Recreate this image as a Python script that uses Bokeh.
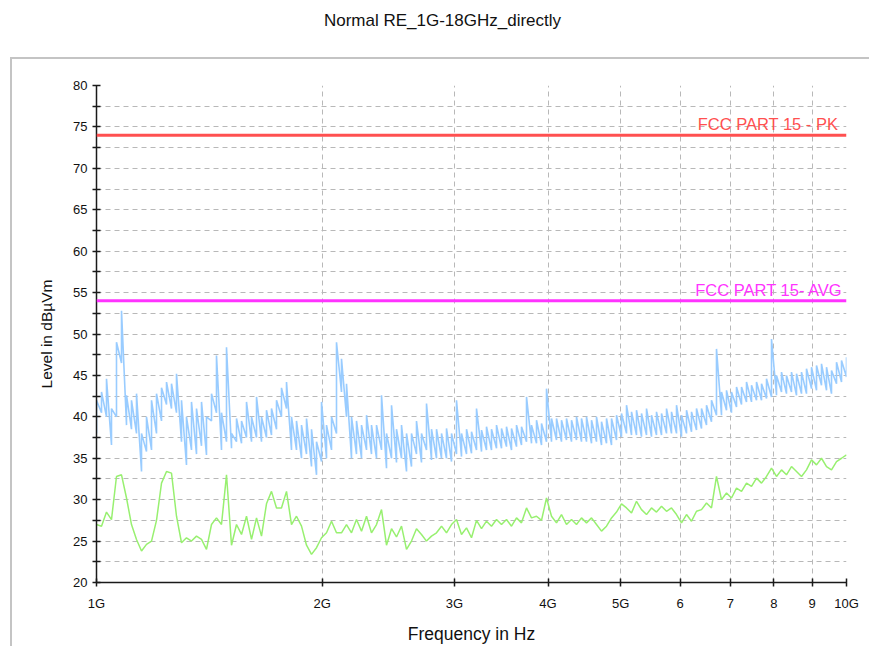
from bokeh.plotting import figure
from bokeh.models import Range1d, FixedTicker, Span, Label, LogAxis
from bokeh.embed import file_html
from bokeh.resources import INLINE

# ---------------- data ----------------
freq_ghz = [
    1.0, 1.0155, 1.0312, 1.0471, 1.0633, 1.0798, 1.0965, 1.1134, 1.1307, 1.1482, 1.1659, 1.1840, 1.2023, 1.2209, 1.2398,
    1.2589, 1.2784, 1.2982, 1.3182, 1.3386, 1.3594, 1.3804, 1.4017, 1.4234, 1.4454, 1.4678, 1.4905, 1.5136, 1.5370, 1.5608,
    1.5849, 1.6095, 1.6344, 1.6596, 1.6852, 1.7113, 1.7378, 1.7646, 1.7920, 1.8197, 1.8478, 1.8765, 1.9055, 1.9350, 1.9650,
    1.9953, 2.0262, 2.0576, 2.0893, 2.1216, 2.1545, 2.1878, 2.2216, 2.2561, 2.2910, 2.3263, 2.3624, 2.3989, 2.4360, 2.4738,
    2.5119, 2.5508, 2.5903, 2.6302, 2.6709, 2.7123, 2.7543, 2.7968, 2.8402, 2.8842, 2.9286, 2.9741, 3.0200, 3.0668, 3.1143,
    3.1623, 3.2113, 3.2610, 3.3112, 3.3625, 3.4146, 3.4675, 3.5209, 3.5756, 3.6310, 3.6869, 3.7442, 3.8020, 3.8609, 3.9206,
    3.9811, 4.0428, 4.1053, 4.1686, 4.2331, 4.2988, 4.3653, 4.4326, 4.5014, 4.5711, 4.6416, 4.7136, 4.7865, 4.8605, 4.9358,
    5.0119, 5.0896, 5.1683, 5.2480, 5.3292, 5.4118, 5.4955, 5.5803, 5.6670, 5.7547, 5.8434, 5.9341, 6.0258, 6.1190, 6.2138,
    6.3096, 6.4074, 6.5065, 6.6068, 6.7090, 6.8131, 6.9185, 7.0251, 7.1343, 7.2447, 7.3564, 7.4706, 7.5860, 7.7034, 7.8226,
    7.9433, 8.0664, 8.1911, 8.3174, 8.4461, 8.5772, 8.7098, 8.8441, 8.9815, 9.1205, 9.2611, 9.4049, 9.5502, 9.6980, 9.8481,
    10.0,
]

# peak trace: highest and lowest level seen within each frequency bin
peak_hi = [
    42.0, 43.0, 44.6, 41.0, 49.0, 52.8, 42.6, 42.0, 42.8, 38.0, 40.0, 42.0, 42.8, 43.5, 44.2,
    44.0, 45.2, 42.0, 40.0, 41.8, 41.0, 41.8, 40.0, 42.8, 47.4, 40.5, 48.4, 38.0, 39.8, 39.5,
    41.8, 40.0, 42.4, 40.0, 40.8, 41.0, 42.0, 43.5, 44.2, 40.0, 39.5, 39.0, 39.8, 38.5, 37.0,
    41.8, 39.0, 40.0, 49.0, 47.0, 44.0, 40.0, 39.5, 39.0, 40.2, 39.0, 39.0, 42.6, 38.0, 41.4,
    38.5, 39.0, 38.0, 38.0, 39.5, 38.0, 41.6, 38.5, 38.5, 38.0, 38.6, 38.0, 42.0, 38.0, 38.5,
    38.2, 41.0, 38.4, 38.8, 38.5, 39.0, 38.6, 38.8, 38.6, 39.0, 38.8, 42.4, 39.0, 39.6, 39.2,
    43.4, 39.8, 39.8, 39.6, 39.8, 39.6, 40.0, 39.8, 40.0, 39.6, 40.0, 39.4, 39.8, 39.8, 40.2,
    40.4, 41.4, 40.6, 40.8, 40.4, 41.0, 40.2, 40.6, 40.4, 41.0, 40.6, 41.4, 40.2, 40.8, 40.6,
    41.0, 41.0, 41.4, 42.0, 48.2, 43.0, 43.2, 43.0, 43.6, 43.6, 44.2, 43.8, 44.2, 44.0, 44.6,
    49.4, 45.0, 45.4, 45.0, 45.4, 45.2, 45.4, 45.8, 46.0, 46.2, 46.4, 46.0, 45.6, 46.6, 46.8,
    47.2,
]
peak_lo = [
    38.0, 40.5, 40.0, 36.6, 40.0, 46.5, 39.0, 38.5, 38.0, 33.4, 35.8, 36.0, 38.0, 39.5, 41.5,
    41.0, 40.5, 37.0, 34.2, 36.0, 35.5, 36.5, 35.4, 39.5, 40.5, 36.0, 37.0, 36.2, 37.0, 36.8,
    37.5, 37.0, 37.5, 37.0, 37.5, 37.8, 38.5, 40.0, 41.0, 36.0, 36.0, 35.0, 35.5, 34.0, 33.0,
    34.6, 35.0, 36.0, 38.0, 43.0, 40.0, 35.0, 35.5, 35.0, 36.0, 35.5, 35.0, 36.0, 33.8, 35.0,
    34.5, 35.0, 33.4, 34.0, 35.5, 34.5, 36.0, 34.8, 35.0, 35.0, 35.0, 34.6, 35.5, 35.2, 35.5,
    35.6, 36.0, 35.8, 36.0, 36.0, 36.2, 36.2, 36.4, 36.0, 36.4, 36.6, 37.0, 36.8, 36.8, 36.6,
    37.0, 37.0, 37.2, 37.0, 37.2, 37.0, 37.2, 37.0, 37.0, 36.8, 37.0, 36.6, 36.8, 36.6, 37.2,
    37.6, 38.0, 37.8, 37.8, 37.6, 37.8, 37.6, 37.8, 37.8, 38.0, 38.0, 38.0, 37.6, 38.0, 38.2,
    38.4, 38.6, 39.0, 39.4, 40.2, 40.2, 40.8, 40.5, 41.2, 41.5, 41.8, 41.8, 42.0, 42.0, 42.2,
    42.4, 42.6, 43.0, 42.8, 43.0, 42.6, 42.8, 42.8, 43.4, 43.2, 43.8, 43.2, 42.8, 44.0, 44.2,
    44.8,
]

avg_dbuv = [
    27.0, 26.8, 28.5, 27.6, 32.8, 33.0, 30.2, 27.0, 25.2, 23.8, 24.6, 25.0, 27.5, 32.0, 33.4,
    33.2, 28.0, 24.8, 25.4, 25.0, 25.6, 25.2, 24.0, 27.0, 27.8, 27.0, 33.0, 24.5, 27.0, 25.8,
    28.0, 25.2, 27.8, 25.6, 29.5, 31.0, 29.0, 29.0, 31.0, 27.0, 28.0, 26.8, 24.5, 23.4, 24.2,
    25.4, 26.0, 27.4, 26.0, 26.0, 27.0, 26.0, 27.6, 26.2, 28.0, 26.0, 27.0, 28.8, 24.5, 26.5,
    25.5, 26.8, 24.0, 25.0, 26.5, 25.8, 25.0, 25.6, 26.0, 26.8, 26.0, 27.0, 27.6, 25.8, 26.6,
    25.4, 27.5, 26.5, 27.4, 26.8, 27.6, 27.0, 27.6, 26.8, 27.8, 27.2, 29.0, 27.8, 28.0, 27.5,
    30.2, 28.0, 27.2, 28.2, 27.0, 27.6, 27.0, 27.8, 27.2, 27.8, 27.0, 26.2, 26.8, 27.8, 28.5,
    29.5, 29.0, 28.4, 29.8, 28.8, 28.2, 29.0, 28.5, 29.2, 28.6, 29.0, 28.2, 27.2, 28.2, 27.4,
    28.6, 28.8, 29.6, 29.0, 32.8, 30.0, 30.8, 30.2, 31.4, 31.0, 32.0, 31.6, 32.6, 32.0, 32.8,
    33.8, 32.8, 33.6, 33.0, 34.0, 33.4, 32.8, 33.6, 34.8, 34.2, 35.0, 34.0, 33.6, 34.6, 35.0,
    35.4,
]

pk_limit = 74
avg_limit = 54
pk_label = "FCC PART 15 - PK"
avg_label = "FCC PART 15- AVG"

x_ticks = [1, 2, 3, 4, 5, 6, 7, 8, 9, 10]
x_tick_labels = ["1G", "2G", "3G", "4G", "5G", "6", "7", "8", "9", "10G"]
x_grid = [2, 3, 4, 5, 6, 7, 8, 9, 10]
y_ticks = [20, 25, 30, 35, 40, 45, 50, 55, 60, 65, 70, 75, 80]
y_minor = [22.5, 27.5, 32.5, 37.5, 42.5, 47.5, 52.5, 57.5, 62.5, 67.5, 72.5, 77.5]
y_grid = y_ticks + y_minor

title_text = "Normal RE_1G-18GHz_directly"
title_pos = 2.893  # frequency under the title's centre
x_title = "Frequency in Hz"
y_title = "Level in dB\u00b5Vm"

FONT = "Liberation Sans"
TXT = "#111111"

# ---------------- figure ----------------
p = figure(width=869, height=646, x_axis_type="log", title=None,
           x_range=Range1d(1, 10), y_range=Range1d(20, 80),
           output_backend="svg", toolbar_location=None,
           min_border_left=96, min_border_right=23,
           min_border_top=85, min_border_bottom=61)
p.background_fill_color = "white"
p.border_fill_color = None
p.outline_line_color = None

bottom_axis = p.below[0]
left_axis = p.left[0]

# outer grey panel border (CSS background lines behind the canvas)
p.styles = {
    "background-color": "white",
    "background-image": "linear-gradient(#c4c4c4, #c4c4c4), linear-gradient(#c4c4c4, #c4c4c4)",
    "background-size": "2px 100%, 100% 2px",
    "background-position": "10px 57px, 10px 57px",
    "background-repeat": "no-repeat",
}

# chart title, carried by a bare axis above the plot
title_axis = LogAxis(ticker=FixedTicker(ticks=[title_pos], minor_ticks=[]),
                     major_label_overrides={title_pos: title_text})
title_axis.axis_line_color = None
title_axis.major_tick_line_color = None
title_axis.minor_tick_line_color = None
title_axis.major_tick_in = 0
title_axis.major_tick_out = 0
title_axis.major_label_standoff = 56
title_axis.major_label_text_font = FONT
title_axis.major_label_text_font_size = "17px"
title_axis.major_label_text_color = TXT
p.add_layout(title_axis, "above")

# grids
p.xgrid.ticker = FixedTicker(ticks=x_grid)
p.ygrid.ticker = FixedTicker(ticks=y_grid)
for g in (p.xgrid, p.ygrid):
    g.grid_line_color = "#b8b8b8"
    g.grid_line_dash = "5 4"
    g.grid_line_width = 1

# axes
bottom_axis.ticker = FixedTicker(ticks=x_ticks, minor_ticks=[])
bottom_axis.major_label_overrides = {t: l for t, l in zip(x_ticks, x_tick_labels)}
left_axis.ticker = FixedTicker(ticks=y_ticks, minor_ticks=y_minor)
for ax in (bottom_axis, left_axis):
    ax.axis_line_color = "#1a1a1a"
    ax.axis_line_width = 1.5
    ax.major_tick_line_color = "#1a1a1a"
    ax.major_tick_line_width = 1.5
    ax.minor_tick_line_color = "#1a1a1a"
    ax.minor_tick_line_width = 1.5
    ax.major_tick_in = 4
    ax.major_tick_out = 4
    ax.minor_tick_in = 4
    ax.minor_tick_out = 4
    ax.major_label_text_font = FONT
    ax.major_label_text_font_size = "13px"
    ax.major_label_text_color = TXT
    ax.axis_label_text_font = FONT
    ax.axis_label_text_font_style = "normal"
    ax.axis_label_text_color = TXT
left_axis.major_label_standoff = 5
bottom_axis.major_label_standoff = 9
bottom_axis.axis_label = x_title
bottom_axis.axis_label_text_font_size = "17.5px"
bottom_axis.axis_label_standoff = 10
left_axis.axis_label = y_title
left_axis.axis_label_text_font_size = "15.5px"
left_axis.axis_label_standoff = 15

# traces: peak drawn as min/max strokes per frequency bin, average as a line
peak_x = [f for f in freq_ghz for _ in (0, 1)]
peak_y = [v for lo, hi in zip(peak_lo, peak_hi) for v in (lo, hi)]
p.line(peak_x, peak_y, line_color="#99ccff", line_width=1.6)
p.line(freq_ghz, avg_dbuv, line_color="#98f070", line_width=1.5)

# limits
p.add_layout(Span(location=pk_limit, dimension="width", line_color="#ff5050", line_width=3))
p.add_layout(Span(location=avg_limit, dimension="width", line_color="#ff33ff", line_width=3))
p.add_layout(Label(x=9.75, y=pk_limit, y_offset=2, text=pk_label, text_align="right",
                   text_baseline="bottom", text_font=FONT, text_font_size="16.5px",
                   text_color="#ff5050"))
p.add_layout(Label(x=9.89, y=avg_limit, y_offset=2, text=avg_label, text_align="right",
                   text_baseline="bottom", text_font=FONT, text_font_size="16.5px",
                   text_color="#ff33ff"))

open("out.html", "w").write(file_html(p, INLINE))
